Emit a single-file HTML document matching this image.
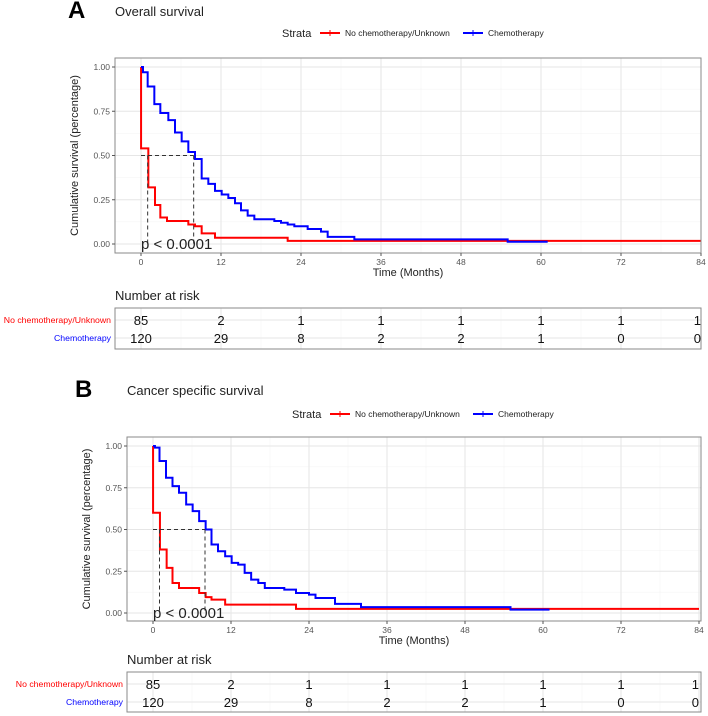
<!DOCTYPE html>
<html><head><meta charset="utf-8">
<style>
body{margin:0;background:#fff;}
svg{display:block;font-family:"Liberation Sans",Arial,sans-serif;}
</style></head>
<body>
<svg id="c" width="708" height="716" viewBox="0 0 708 716"></svg>
<script>
// ----- data -----
const months = [0,12,24,36,48,60,72,84];
const yTicks = [0,0.25,0.5,0.75,1];
const yTickLabels = ["0.00","0.25","0.50","0.75","1.00"];
const strata = ["No chemotherapy/Unknown","Chemotherapy"];
// Panel A: overall survival step curves [time, survival]
const osRedT = [0,0.01,1.1,2.1,2.9,3.9,7.1,8.1,9.1,11.1,22,84];
const osRedS = [1,0.54,0.32,0.22,0.15,0.13,0.11,0.10,0.06,0.035,0.018,0.018];
const osBlueT = [0,0.3,1,2,2.9,4.1,5.1,6.1,7.1,8.1,9.1,10.1,11.1,12.1,13.1,14.1,15,16,17,20,21,22,23,25,27,28,32,55,61];
const osBlueS = [1,0.97,0.89,0.79,0.74,0.70,0.63,0.58,0.52,0.48,0.37,0.34,0.30,0.28,0.26,0.23,0.19,0.16,0.14,0.13,0.12,0.11,0.10,0.085,0.07,0.04,0.026,0.013,0.013];
const osMedians = [1.0,7.9];
const osRiskRed = [85,2,1,1,1,1,1,1];
const osRiskBlue = [120,29,8,2,2,1,0,0];
// Panel B: cancer specific survival
const cssRedT = [0,0.01,1.07,2.1,3,4,7.1,8.1,9,11.1,22,84];
const cssRedS = [1,0.60,0.38,0.27,0.18,0.15,0.12,0.095,0.08,0.05,0.025,0.025];
const cssBlueT = [0,0.3,1,2,3,4,5.1,6.1,7.1,8.1,9,10,11.1,12.1,13.1,14.1,15.1,16.2,17.2,20.2,22,24,25,28,32,55,61];
const cssBlueS = [1,0.99,0.91,0.81,0.76,0.72,0.65,0.61,0.55,0.50,0.41,0.37,0.34,0.30,0.29,0.24,0.20,0.18,0.15,0.14,0.12,0.11,0.09,0.055,0.035,0.02,0.02];
const cssMedians = [1.0,8.0];
const cssRiskRed = [85,2,1,1,1,1,1,1];
const cssRiskBlue = [120,29,8,2,2,1,0,0];

const NS="http://www.w3.org/2000/svg";
const svg=document.getElementById('c');
function mk(tag,attrs,parent,text){const e=document.createElementNS(NS,tag);for(const k in attrs)e.setAttribute(k,attrs[k]);if(text!==undefined)e.textContent=text;(parent||svg).appendChild(e);return e;}

function panel(cfg){
  const g=mk('g',{});
  
  
  const xS=m=>cfg.x0+m*(cfg.x84-cfg.x0)/84;
  const yS=v=>cfg.y0+v*(cfg.y1-cfg.y0);
  let t=mk('text',{x:cfg.letterX,y:cfg.titleY+7,'font-size':24,'font-weight':'bold',fill:'#000'},g,cfg.letter);
  
  t=mk('text',{x:cfg.box[0],y:cfg.titleY+5,'font-size':13,fill:'#222'},g,cfg.title);
  
  const lg=mk('g',{},g);
  
  let lx=cfg.legX;
  mk('text',{x:lx,y:cfg.legY+4,'font-size':11,fill:'#222'},lg,'Strata');
  lx+=38;
  const cols=['#ff0000','#0000ff'];
  strata.forEach((s,i)=>{
    const e=mk('g',{},lg);
    
    mk('line',{x1:lx,x2:lx+20,y1:cfg.legY,y2:cfg.legY,stroke:cols[i],'stroke-width':2},e);
    mk('line',{x1:lx+10,x2:lx+10,y1:cfg.legY-3,y2:cfg.legY+3,stroke:cols[i],'stroke-width':1},e);
    mk('text',{x:lx+25,y:cfg.legY+3,'font-size':8.5,fill:'#222'},e,s);
    lx+=25+(i==0?118:0);
  });
  const [bl,bt,br,bb]=cfg.box;
  const pb=mk('rect',{x:bl,y:bt,width:br-bl,height:bb-bt,fill:'#fff'},g);
  
  for(let m=6;m<84;m+=12) mk('line',{x1:xS(m),x2:xS(m),y1:bt,y2:bb,stroke:'#f3f3f3','stroke-width':0.6},g);
  for(let v=0.125;v<1;v+=0.25) mk('line',{x1:bl,x2:br,y1:yS(v),y2:yS(v),stroke:'#f3f3f3','stroke-width':0.6},g);
  months.forEach(m=>mk('line',{x1:xS(m),x2:xS(m),y1:bt,y2:bb,stroke:'#e6e6e6','stroke-width':1},g));
  yTicks.forEach(v=>mk('line',{x1:bl,x2:br,y1:yS(v),y2:yS(v),stroke:'#e6e6e6','stroke-width':1},g));
  function step(T,S,col,name){
    let d='M'+xS(T[0])+','+yS(S[0]);
    for(let i=1;i<T.length;i++){d+=' H'+xS(T[i])+' V'+yS(S[i]);}
    const p=mk('path',{d:d,fill:'none',stroke:col,'stroke-width':2},g);
    
  }
  step(cfg.redT,cfg.redS,'#ff0000','curve-no-chemotherapy');
  step(cfg.blueT,cfg.blueS,'#0000ff','curve-chemotherapy');
  const med=mk('g',{stroke:'#333','stroke-width':1,'stroke-dasharray':'4,3'},g);
  
  const mx=Math.max(...cfg.med);
  mk('line',{x1:xS(0),x2:xS(mx),y1:yS(0.5),y2:yS(0.5)},med);
  cfg.med.forEach(m=>mk('line',{x1:xS(m),x2:xS(m),y1:yS(0.5),y2:yS(0)},med));
  mk('rect',{x:bl,y:bt,width:br-bl,height:bb-bt,fill:'none',stroke:'#8a8a8a','stroke-width':1},g);
  t=mk('text',{x:xS(0),y:yS(0)+5,'font-size':15,fill:'#222'},g,'p < 0.0001');
  
  yTicks.forEach((v,i)=>{
    mk('line',{x1:bl-3,x2:bl,y1:yS(v),y2:yS(v),stroke:'#555'},g);
    const tl=mk('text',{x:bl-5,y:yS(v)+3,'font-size':8.5,fill:'#555','text-anchor':'end'},g,yTickLabels[i]);
    
  });
  months.forEach(m=>{
    mk('line',{x1:xS(m),x2:xS(m),y1:bb,y2:bb+3,stroke:'#555'},g);
    const tl=mk('text',{x:xS(m),y:bb+12,'font-size':8.5,fill:'#555','text-anchor':'middle'},g,String(m));
    
  });
  t=mk('text',{x:(bl+br)/2,y:bb+23,'font-size':11,fill:'#222','text-anchor':'middle'},g,'Time (Months)');
  
  const ym=(bt+bb)/2;
  t=mk('text',{x:cfg.ylabX,y:ym,'font-size':11,fill:'#222','text-anchor':'middle',transform:`rotate(-90 ${cfg.ylabX} ${ym})`},g,'Cumulative survival (percentage)');
  
  const rt=mk('g',{},g);
  
  const [tt0,tb0]=cfg.table;
  mk('text',{x:bl,y:tt0-8,'font-size':13,fill:'#222'},rt,'Number at risk');
  mk('rect',{x:bl,y:tt0,width:br-bl,height:tb0-tt0,fill:'#fff'},rt);
  for(let m=6;m<84;m+=12) mk('line',{x1:xS(m),x2:xS(m),y1:tt0,y2:tb0,stroke:'#f3f3f3','stroke-width':0.6},rt);
  months.forEach(m=>mk('line',{x1:xS(m),x2:xS(m),y1:tt0,y2:tb0,stroke:'#e6e6e6'},rt));
  cfg.rows.forEach(r=>mk('line',{x1:bl,x2:br,y1:r,y2:r,stroke:'#e6e6e6'},rt));
  mk('rect',{x:bl,y:tt0,width:br-bl,height:tb0-tt0,fill:'none',stroke:'#8a8a8a'},rt);
  [cfg.riskRed,cfg.riskBlue].forEach((arr,i)=>{
    const lab=mk('text',{x:bl-4,y:cfg.rows[i]+3,'font-size':8.7,fill:cols[i],'text-anchor':'end'},rt,strata[i]);
    
    arr.forEach((v,j)=>{
      const c=mk('text',{x:xS(months[j]),y:cfg.rows[i]+5,'font-size':13,fill:'#111','text-anchor':j==7?'end':'middle'},rt,String(v));
      
    });
  });
}
panel({id:'overall-survival',letter:'A',title:'Overall survival',letterX:68,titleY:11,legX:282,legY:33,
  box:[115,58,701,253],x0:141,x84:701,y0:244,y1:67,ylabX:78,med:osMedians,
  redT:osRedT,redS:osRedS,blueT:osBlueT,blueS:osBlueS,riskRed:osRiskRed,riskBlue:osRiskBlue,
  table:[308,349],rows:[320,338]});
panel({id:'cancer-specific-survival',letter:'B',title:'Cancer specific survival',letterX:75,titleY:390,legX:292,legY:414,
  box:[127,437,701,621],x0:153,x84:699,y0:613,y1:446,ylabX:90,med:cssMedians,
  redT:cssRedT,redS:cssRedS,blueT:cssBlueT,blueS:cssBlueS,riskRed:cssRiskRed,riskBlue:cssRiskBlue,
  table:[672,712],rows:[684,702]});
</script>
</body></html>
